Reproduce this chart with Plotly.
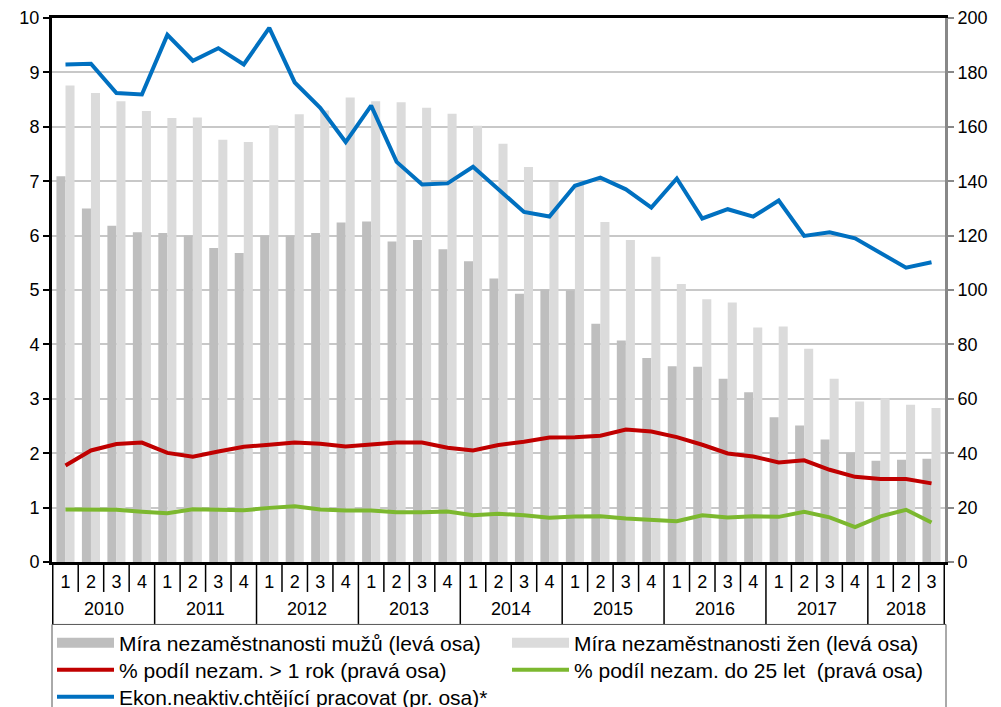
import plotly.graph_objects as go

years = ["2010", "2011", "2012", "2013", "2014", "2015", "2016", "2017", "2018"]
quarters_in_year = [4, 4, 4, 4, 4, 4, 4, 4, 3]

categories = [f"{y}-Q{q + 1}" for y, n in zip(years, quarters_in_year) for q in range(n)]
quarter_labels = [str(q + 1) for n in quarters_in_year for q in range(n)]

men = [7.09, 6.50, 6.18, 6.06, 6.05, 6.00, 5.77, 5.68,
       6.00, 6.00, 6.05, 6.24, 6.26, 5.89, 5.92, 5.75,
       5.53, 5.21, 4.93, 5.01, 4.99, 4.38, 4.07, 3.75,
       3.60, 3.59, 3.37, 3.12, 2.66, 2.51, 2.25, 2.01,
       1.86, 1.88, 1.90]
women = [8.76, 8.62, 8.47, 8.29, 8.16, 8.17, 7.76, 7.72,
         8.03, 8.23, 8.30, 8.54, 8.47, 8.45, 8.35, 8.24,
         8.02, 7.69, 7.26, 6.99, 6.95, 6.25, 5.92, 5.61,
         5.11, 4.83, 4.77, 4.31, 4.33, 3.92, 3.37, 2.95,
         3.01, 2.89, 2.83]
long_term = [35.5, 41.0, 43.4, 43.9, 40.1, 38.7, 40.6, 42.4,
             43.1, 43.9, 43.5, 42.5, 43.2, 43.9, 43.9, 42.0,
             41.0, 43.0, 44.2, 45.8, 45.9, 46.4, 48.7, 48.0,
             45.9, 43.1, 39.9, 38.8, 36.6, 37.4, 33.9, 31.3,
             30.5, 30.5, 28.9]
youth = [19.3, 19.3, 19.2, 18.5, 17.9, 19.4, 19.3, 19.0,
         19.9, 20.5, 19.3, 18.9, 18.9, 18.3, 18.3, 18.6,
         17.2, 17.7, 17.2, 16.3, 16.7, 16.8, 16.0, 15.5,
         15.0, 17.2, 16.4, 16.8, 16.6, 18.5, 16.4, 12.8,
         16.8, 19.2, 14.5]
inactive = [182.9, 183.2, 172.4, 171.9, 193.8, 184.3, 188.9, 182.9,
            196.4, 176.3, 167.0, 154.4, 167.8, 147.1, 138.8, 139.2,
            145.3, 137.0, 128.7, 127.0, 138.3, 141.3, 137.0, 130.3,
            141.0, 126.3, 129.7, 127.0, 132.9, 119.9, 121.2, 119.0,
            113.5, 108.2, 110.2]

names = ["Míra nezaměstnanosti mužů (levá osa)",
         "Míra nezaměstnanosti žen (levá osa)",
         "% podíl nezam. > 1 rok (pravá osa)",
         "% podíl nezam. do 25 let  (pravá osa)",
         "Ekon.neaktiv.chtějící pracovat (pr. osa)*"]
title_html = ("<b>Podíl nezaměstnaných</b> (v %) "
              "<b>a ekonomicky neaktivní chtějící pracovat</b> (v tis.)")

FONT = "Liberation Sans, Arial, sans-serif"
MEN_COLOR = "#BEBEBE"
WOMEN_COLOR = "#DBDBDB"
# the page body has an 8px margin, so the figure is laid out 8px up/left
OFFSET = 8
TOP = 10
LEFT = 44
RIGHT = 64
BOTTOM = 152.5
PLOT_H = 707 - TOP - BOTTOM
PLOT_W = 1001 - LEFT - RIGHT

fig = go.Figure()
fig.add_trace(go.Bar(x=categories, y=men, name=names[0], showlegend=False,
                     marker=dict(color=MEN_COLOR, line=dict(width=0))))
fig.add_trace(go.Bar(x=categories, y=women, name=names[1], showlegend=False,
                     marker=dict(color=WOMEN_COLOR, line=dict(width=0))))
# legend keys for the bar series, drawn as wide swatches like the original
fig.add_trace(go.Scatter(x=[None], y=[None], name=names[0], mode="lines", legend="legend",
                         line=dict(color=MEN_COLOR, width=12), hoverinfo="skip"))
fig.add_trace(go.Scatter(x=[None], y=[None], name=names[1], mode="lines", legend="legend2",
                         line=dict(color=WOMEN_COLOR, width=12), hoverinfo="skip"))
fig.add_trace(go.Scatter(x=categories, y=long_term, name=names[2], yaxis="y2", mode="lines",
                         legend="legend3", line=dict(color="#C00000", width=4)))
fig.add_trace(go.Scatter(x=categories, y=youth, name=names[3], yaxis="y2", mode="lines",
                         legend="legend4", line=dict(color="#7CB82F", width=4)))
fig.add_trace(go.Scatter(x=categories, y=inactive, name=names[4], yaxis="y2", mode="lines",
                         legend="legend5", line=dict(color="#0070C0", width=4)))

# category boundaries: short lines between quarters, long lines between years
shapes = []
annotations = []
start = 0
for yr, n in zip(years, quarters_in_year):
    for q in range(n):
        b = start + q - 0.5
        long_line = (q == 0)
        shapes.append(dict(type="line", xref="x", yref="paper", x0=b, x1=b, y0=0,
                           y1=-(62 if long_line else 30) / PLOT_H,
                           line=dict(color="black", width=1.5), layer="above"))
    annotations.append(dict(text=yr, xref="x", yref="paper", x=start + (n - 1) / 2,
                            y=-47 / PLOT_H, yanchor="middle", xanchor="center",
                            showarrow=False, font=dict(size=18, color="black", family=FONT)))
    start += n
shapes.append(dict(type="line", xref="x", yref="paper", x0=start - 0.5, x1=start - 0.5,
                   y0=0, y1=-62 / PLOT_H, line=dict(color="black", width=1.5), layer="above"))

# frame around the legend entries
shapes.append(dict(type="rect", xref="paper", yref="paper", x0=0, x1=(946 - 52) / PLOT_W,
                   y0=-(625 - 562.5) / PLOT_H, y1=-(730 - 562.5) / PLOT_H,
                   line=dict(color="#555555", width=1), fillcolor="rgba(0,0,0,0)"))

annotations.append(dict(text=title_html, xref="paper", yref="paper",
                        x=(40 - LEFT) / PLOT_W, y=1 + (TOP - 1.0) / PLOT_H,
                        xanchor="left", yanchor="bottom",
                        showarrow=False, font=dict(size=26, family=FONT, color="black")))

# legend grid: two columns, three rows (page pixel positions)
col_x = [0, (507 - 52) / PLOT_W]
row_center = [643, 670, 697]
cells = [(0, 0), (1, 0), (0, 1), (1, 1), (0, 2)]  # (column, row) per legend


def legend_at(col, row):
    return dict(orientation="v", x=col_x[col], xanchor="left", yref="container",
                y=1 - (row_center[row] - OFFSET) / 707, yanchor="middle",
                bgcolor="rgba(0,0,0,0)", borderwidth=0,
                font=dict(size=21, family=FONT), itemwidth=57)


legend_keys = ["legend", "legend2", "legend3", "legend4", "legend5"]
legend_layout = {k: legend_at(c, r) for k, (c, r) in zip(legend_keys, cells)}

fig.update_layout(
    width=1001, height=707,
    margin=dict(l=LEFT, r=RIGHT, t=TOP, b=BOTTOM, autoexpand=False),
    paper_bgcolor="white", plot_bgcolor="white",
    font=dict(family=FONT, size=18, color="black"),
    barmode="group", bargap=0.29, bargroupgap=0,
    showlegend=True,
    shapes=shapes,
    annotations=annotations,
    **legend_layout,
)

fig.update_xaxes(type="category", tickvals=categories, ticktext=quarter_labels,
                 showline=True, linecolor="black", linewidth=2.5, mirror=True,
                 ticks="outside", ticklen=2, tickcolor="rgba(0,0,0,0)",
                 showgrid=False, tickfont=dict(size=18, color="black"), automargin=False)

fig.update_layout(
    yaxis=dict(range=[0, 10], tickvals=list(range(0, 11)), showline=True, linecolor="black",
               linewidth=3, ticks="outside", ticklen=6, tickcolor="black", tickwidth=1.5,
               showgrid=True, gridcolor="#C8C8C8", gridwidth=1.5, zeroline=False,
               tickfont=dict(size=18), automargin=False),
    yaxis2=dict(range=[0, 200], tickvals=list(range(0, 201, 20)), overlaying="y", side="right",
                showline=True, linecolor="#888888", linewidth=3, ticks="outside", ticklen=6,
                tickcolor="#888888", tickwidth=1.5, showgrid=False, zeroline=False,
                tickfont=dict(size=18), automargin=False),
)

fig.write_html("out.html")
